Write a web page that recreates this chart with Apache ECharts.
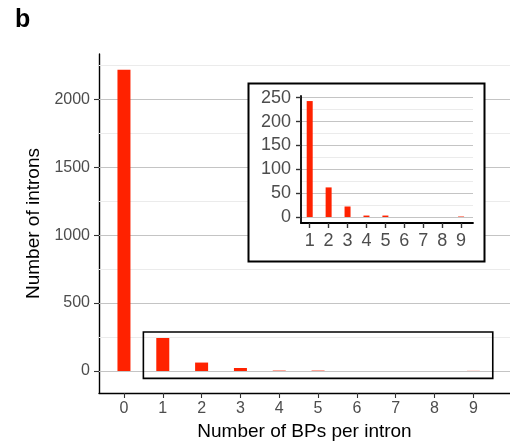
<!DOCTYPE html>
<html>
<head>
<meta charset="utf-8">
<script src="https://cdn.jsdelivr.net/npm/echarts@6/dist/echarts.min.js"></script>
<style>
  html, body { margin: 0; padding: 0; background: #fff; }
  #chart { width: 510px; height: 446px; }
</style>
</head>
<body>
<div id="chart"></div>
<script>
// values
const bpPerIntron = [0, 1, 2, 3, 4, 5, 6, 7, 8, 9];
const intronCounts = [2217, 243, 62, 22, 3, 3, 0, 0, 0, 1];

const mainYTicks = [0, 500, 1000, 1500, 2000];
const mainYMinor = [250, 750, 1250, 1750, 2250];
const insetYTicks = [0, 50, 100, 150, 200, 250];
const insetYMinor = [25, 75, 125, 175, 225];
const mainXTicks = [0, 1, 2, 3, 4, 5, 6, 7, 8, 9];
const insetXTicks = [1, 2, 3, 4, 5, 6, 7, 8, 9];

// zoom rectangle drawn around bars 1..9 in the main panel
const zoomBoxX = [0.5, 9.5];
const zoomBoxY = [-54, 287];

const barColor = '#ff2200';
const labelGrey = '#4d4d4d';
const font = 'Liberation Sans';

function gridLines(major, minor) {
    const lines = minor.map(v => ({ yAxis: v, lineStyle: { color: '#ebebeb', width: 1, type: 'solid' } }));
    return lines.concat(major.map(v => ({ yAxis: v, lineStyle: { color: '#c4c4c4', width: 1.2, type: 'solid' } })));
}

const plain = v => String(v);

const mainData = bpPerIntron.map((x, i) => [x, intronCounts[i]]);
const insetData = bpPerIntron.slice(1).map((x, i) => [x, intronCounts[i + 1]]);

const chart = echarts.init(document.getElementById('chart'));

const options = {
    animation: false,
    backgroundColor: '#fff',
    textStyle: { fontFamily: font },
    title: {
        text: 'b',
        left: 10,
        top: 3,
        textStyle: { fontFamily: font, fontSize: 25, fontWeight: 'bold', color: '#000' }
    },
    graphic: {
        elements: [{
            type: 'rect',
            z: 5,
            shape: { x: 248.5, y: 83.5, width: 236, height: 178 },
            style: { fill: '#fff', stroke: '#000', lineWidth: 2 }
        }]
    },
    grid: [
        { left: 99, top: 54, right: 0, bottom: 53 },
        { left: 301, top: 96, right: 37, bottom: 223 }
    ],
    xAxis: [
        {
            type: 'value', gridIndex: 0, min: -0.643, max: 9.944,
            name: 'Number of BPs per intron', nameLocation: 'middle', nameGap: 27,
            nameTextStyle: { fontFamily: font, fontSize: 19, color: '#000' },
            axisLine: { show: true, onZero: false, lineStyle: { color: '#000', width: 1.4 } },
            axisTick: { show: true, length: 5, customValues: mainXTicks, lineStyle: { color: '#333', width: 1.1 } },
            axisLabel: { customValues: mainXTicks, formatter: plain, margin: 8, fontSize: 16, color: labelGrey, fontFamily: font },
            splitLine: { show: false }
        },
        {
            type: 'value', gridIndex: 1, min: 0.54, max: 9.63, z: 8,
            axisLine: { show: true, onZero: false, lineStyle: { color: '#000', width: 1.8 } },
            axisTick: { show: true, length: 5, customValues: insetXTicks, lineStyle: { color: '#333', width: 1.4 } },
            axisLabel: { customValues: insetXTicks, formatter: plain, margin: 9, fontSize: 18, color: labelGrey, fontFamily: font },
            splitLine: { show: false }
        }
    ],
    yAxis: [
        {
            type: 'value', gridIndex: 0, min: -162, max: 2333,
            name: 'Number of introns', nameLocation: 'middle', nameGap: 44,
            nameTextStyle: { fontFamily: font, fontSize: 19, color: '#000' },
            axisLine: { show: true, onZero: false, lineStyle: { color: '#000', width: 1.4 } },
            axisTick: { show: true, length: 5, customValues: mainYTicks, lineStyle: { color: '#333', width: 1.1 } },
            axisLabel: { customValues: mainYTicks, formatter: plain, margin: 9, fontSize: 16, color: labelGrey, fontFamily: font },
            splitLine: { show: false }
        },
        {
            type: 'value', gridIndex: 1, min: -12.6, max: 253.6, z: 8,
            axisLine: { show: true, onZero: false, lineStyle: { color: '#000', width: 1.8 } },
            axisTick: { show: true, length: 5, customValues: insetYTicks, lineStyle: { color: '#333', width: 1.4 } },
            axisLabel: { customValues: insetYTicks, formatter: plain, margin: 10, fontSize: 18, color: labelGrey, fontFamily: font },
            splitLine: { show: false }
        }
    ],
    series: [
        {
            name: 'main',
            type: 'bar',
            xAxisIndex: 0, yAxisIndex: 0,
            z: 2,
            barWidth: 13,
            itemStyle: { color: barColor },
            data: mainData,
            markLine: {
                z: 1, silent: true, symbol: ['none', 'none'],
                label: { show: false },
                data: gridLines(mainYTicks, mainYMinor)
            },
            markArea: {
                z: 3, silent: true,
                itemStyle: { color: 'rgba(0,0,0,0)', borderColor: '#000', borderWidth: 1.6 },
                data: [[{ xAxis: zoomBoxX[0], yAxis: zoomBoxY[0] }, { xAxis: zoomBoxX[1], yAxis: zoomBoxY[1] }]]
            }
        },
        {
            name: 'inset',
            type: 'bar',
            xAxisIndex: 1, yAxisIndex: 1,
            z: 7,
            barWidth: 6,
            itemStyle: { color: barColor },
            data: insetData,
            markLine: {
                z: 6, silent: true, symbol: ['none', 'none'],
                label: { show: false },
                data: gridLines(insetYTicks, insetYMinor)
            }
        }
    ]
};

chart.setOption(options);
</script>
</body>
</html>
